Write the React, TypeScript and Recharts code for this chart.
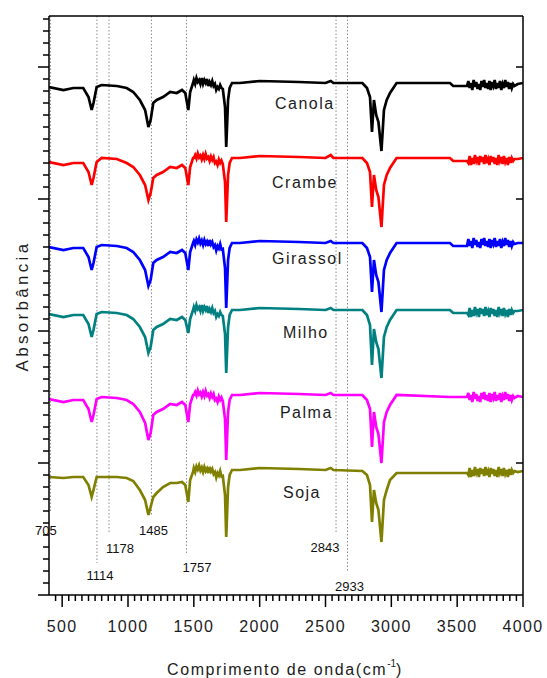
import React from 'react';
import { LineChart, Line, XAxis, YAxis, ReferenceLine, ReferenceDot } from 'recharts';

// Wavenumber grid (cm-1) at which the spectra were read
const WAVENUMBERS = [
  // 400 - 1494
  400, 510, 585, 660, 700, 724, 738, 762, 800, 915,
  990, 1040, 1090, 1130, 1155, 1172, 1192, 1218, 1266, 1320,
  1370, 1410, 1435, 1458, 1472, 1494,
  // 1500 - 1720 (noisy)
  1500, 1510, 1520, 1530, 1540, 1550, 1560, 1570, 1580, 1590,
  1600, 1610, 1620, 1630, 1640, 1650, 1660, 1670, 1680, 1690,
  1700, 1710, 1720,
  // 1737 - 3575
  1737, 1746, 1760, 1772, 1790, 1850, 2000, 2300, 2500, 2540,
  2560, 2780, 2815, 2838, 2853, 2868, 2885, 2902, 2925, 2944,
  2965, 2990, 3040, 3445, 3470, 3575,
  // 3585 - 3935 (noisy)
  3585, 3595, 3605, 3615, 3625, 3635, 3645, 3655, 3665, 3675,
  3685, 3695, 3705, 3715, 3725, 3735, 3745, 3755, 3765, 3775,
  3785, 3795, 3805, 3815, 3825, 3835, 3845, 3855, 3865, 3875,
  3885, 3895, 3905, 3915, 3925, 3935,
  3960, 4000,
];

// Absorbance (vertically offset, a.u.)
const CANOLA = [
  .508, .505, .507, .507, .498, .485, .492, .508, .510, .509,
  .507, .503, .495, .485, .468, .475, .492, .495, .498, .503,
  .502, .505, .502, .485, .503, .512,
  .515, .511, .517, .513, .515, .511, .517, .511, .515, .512,
  .516, .509, .513, .510, .514, .509, .511, .505, .508, .506,
  .510, .507, .506,
  .488, .448, .495, .507, .512, .512, .514, .513, .512, .514,
  .512, .512, .507, .498, .463, .495, .480, .473, .444, .485,
  .495, .502, .512, .512, .509, .509,
  .514, .507, .512, .505, .515, .508, .513, .506, .511, .505,
  .514, .508, .515, .507, .512, .506, .514, .505, .513, .509,
  .515, .506, .512, .507, .514, .505, .511, .507, .515, .508,
  .513, .506, .512, .507, .511, .509,
  .511, .512,
];
const CRAMBE = [
  .433, .430, .432, .432, .423, .410, .417, .433, .437, .436,
  .432, .428, .420, .410, .395, .402, .417, .420, .423, .428,
  .427, .430, .427, .410, .428, .437,
  .437, .440, .4365, .4415, .4375, .4395, .4355, .440, .436, .441,
  .4365, .438, .434, .4385, .435, .438, .432, .4335, .430, .4355,
  .432, .4345, .431,
  .413, .373, .420, .432, .437, .437, .439, .438, .437, .440,
  .437, .437, .432, .423, .388, .420, .405, .398, .368, .410,
  .420, .427, .437, .437, .434, .434,
  .432, .439, .430, .437, .431, .440, .434, .438, .430, .439,
  .433, .438, .431, .440, .432, .436, .430, .439, .433, .438,
  .431, .437, .430, .440, .434, .438, .431, .439, .433, .437,
  .430, .438, .432, .437, .434, .436,
  .436, .437,
];
const GIRASSOL = [
  .348, .345, .347, .347, .338, .325, .332, .348, .350, .349,
  .347, .343, .335, .325, .309, .315, .332, .335, .338, .343,
  .342, .345, .342, .325, .343, .352,
  .354, .350, .3555, .3525, .3565, .3515, .3545, .350, .355, .351,
  .3535, .349, .355, .3505, .353, .348, .350, .3445, .349, .3465,
  .351, .3455, .346,
  .327, .287, .335, .347, .352, .352, .354, .353, .352, .354,
  .352, .352, .347, .338, .303, .335, .320, .313, .283, .325,
  .335, .342, .352, .352, .349, .349,
  .356, .349, .354, .347, .357, .350, .355, .348, .353, .347,
  .356, .350, .357, .349, .354, .348, .356, .347, .355, .351,
  .357, .348, .354, .349, .356, .347, .353, .349, .357, .350,
  .355, .348, .354, .349, .353, .351,
  .352, .352,
];
const MILHO = [
  .281, .278, .280, .280, .271, .258, .265, .281, .283, .282,
  .280, .276, .268, .258, .242, .248, .265, .268, .271, .276,
  .275, .278, .275, .262, .276, .285,
  .288, .284, .290, .286, .288, .284, .290, .284, .288, .285,
  .289, .282, .286, .283, .287, .282, .284, .278, .281, .279,
  .283, .280, .279,
  .261, .222, .268, .280, .285, .285, .287, .286, .285, .287,
  .285, .285, .280, .270, .230, .266, .253, .246, .217, .258,
  .268, .275, .285, .285, .282, .282,
  .280, .287, .278, .285, .279, .288, .282, .286, .278, .287,
  .281, .286, .279, .288, .280, .284, .278, .287, .281, .286,
  .279, .285, .278, .288, .282, .286, .279, .287, .281, .285,
  .278, .286, .280, .285, .282, .284,
  .284, .285,
];
const PALMA = [
  .196, .193, .195, .195, .186, .173, .180, .196, .198, .197,
  .195, .191, .183, .172, .155, .162, .180, .183, .186, .191,
  .190, .193, .190, .173, .191, .200,
  .200, .203, .1995, .2045, .2005, .2025, .1985, .203, .199, .204,
  .1995, .201, .197, .2015, .198, .201, .195, .1965, .193, .1985,
  .195, .1975, .194,
  .176, .135, .183, .195, .200, .200, .202, .201, .200, .202,
  .200, .200, .195, .186, .148, .183, .168, .161, .132, .173,
  .183, .190, .200, .198, .198, .198,
  .202, .195, .200, .193, .203, .196, .201, .194, .199, .193,
  .202, .196, .203, .195, .200, .194, .202, .193, .201, .197,
  .203, .194, .200, .195, .202, .193, .199, .195, .203, .196,
  .201, .194, .200, .195, .199, .197,
  .199, .198,
];
const SOJA = [
  .118, .117, .118, .118, .110, .098, .105, .118, .118, .118,
  .117, .114, .105, .095, .080, .088, .098, .102, .108, .112,
  .112, .113, .110, .093, .115, .123,
  .127, .123, .1285, .1255, .1295, .1245, .1275, .123, .128, .124,
  .1265, .122, .128, .1235, .126, .121, .123, .1175, .122, .1195,
  .124, .1185, .119,
  .100, .058, .108, .120, .125, .125, .127, .126, .125, .127,
  .125, .124, .120, .110, .073, .105, .092, .085, .053, .095,
  .105, .115, .122, .122, .122, .122,
  .120, .127, .118, .125, .119, .128, .122, .126, .118, .127,
  .121, .126, .119, .128, .120, .124, .118, .127, .121, .126,
  .119, .125, .118, .128, .122, .126, .119, .127, .121, .125,
  .118, .126, .120, .125, .122, .124,
  .123, .124,
];

const SERIES_NAMES = ['Canola', 'Crambe', 'Girassol', 'Milho', 'Palma', 'Soja'];
const SERIES_VALUES = [CANOLA, CRAMBE, GIRASSOL, MILHO, PALMA, SOJA];
const SERIES_COLORS = ['#000000', '#FF0000', '#0000FF', '#008080', '#FF00FF', '#808000'];
// label anchor positions (wavenumber, absorbance)
const SERIES_LABEL_X = [2116, 2094, 2094, 2177, 2154, 2177];
const SERIES_LABEL_Y = [0.492, 0.413, 0.337, 0.263, 0.183, 0.103];

// Marked bands (dotted guide lines)
const MARK_LABELS = ['705', '1114', '1178', '1485', '1757', '2843', '2933'];
const MARK_LINE_X = [412, 764, 856, 1178, 1444, 2580, 2667];
const MARK_LINE_END = [0.082, 0.032, 0.062, 0.080, 0.040, 0.062, 0.023];
const MARK_TEXT_X = [377, 787, 939, 1194, 1524, 2496, 2682];
const MARK_TEXT_Y = [0.065, 0.020, 0.047, 0.065, 0.028, 0.048, 0.009];

const X_DOMAIN = [400, 4000];
const Y_DOMAIN = [0, 0.579];
const X_MAJOR = [500, 1000, 1500, 2000, 2500, 3000, 3500, 4000];
const X_MINOR_STEP = 50;
const X_TOP_TICKS = [916, 1432, 1948, 2464, 2980, 3496];
const Y_LEFT_STEP = 0.012;
const Y_LEFT_COUNT = 48;
const Y_RIGHT_TICKS = [0.132, 0.264, 0.396, 0.528];

const xBottomTicks: number[] = [];
for (let v = 450; v <= 4000; v += X_MINOR_STEP) xBottomTicks.push(v);
const yLeftTicks: number[] = [];
for (let k = 0; k <= Y_LEFT_COUNT; k++) yLeftTicks.push(+(k * Y_LEFT_STEP).toFixed(4));

const FONT = "'Liberation Sans', Arial, sans-serif";
const TEXT_COLOR = '#1c1c1c';

const seriesData = SERIES_VALUES.map((vals) =>
  WAVENUMBERS.map((wn, i) => ({ wn, a: vals[i] }))
);

const BottomTick = (props: any) => {
  const { x, y, payload } = props;
  const v = payload.value;
  const major = X_MAJOR.includes(v);
  return (
    <g>
      <line x1={x} y1={y} x2={x} y2={y + (major ? 12 : 6)} stroke="#000" strokeWidth={1.5} />
      {major && (
        <text x={x} y={y + 37} textAnchor="middle" fontSize={16} letterSpacing={1.3}
          fontFamily={FONT} fill={TEXT_COLOR}>{v}</text>
      )}
    </g>
  );
};

const TopTick = (props: any) => {
  const { x, y } = props;
  return <line x1={x} y1={y} x2={x} y2={y + 10} stroke="#000" strokeWidth={1.5} />;
};

const LeftTick = (props: any) => {
  const { x, y, payload } = props;
  const k = Math.round(payload.value / Y_LEFT_STEP);
  const major = k % 11 === 0;
  return <line x1={x} y1={y} x2={x - (major ? 11 : 6)} y2={y} stroke="#000" strokeWidth={1.5} />;
};

const RightTick = (props: any) => {
  const { x, y } = props;
  return <line x1={x} y1={y} x2={x - 7} y2={y} stroke="#000" strokeWidth={1.5} />;
};

export default function App() {
  return (
    <div style={{ position: 'relative', width: 547, height: 678, background: '#fff' }}>
      <style>{'body{margin:0;background:#fff}'}</style>
      <LineChart width={547} height={678} margin={{ top: 15, right: 23, bottom: 82, left: 48 }}>
        <XAxis xAxisId="x" dataKey="wn" type="number" domain={X_DOMAIN} ticks={xBottomTicks}
          interval={0} height={1} tickSize={0} tickMargin={0} tickLine={false}
          tick={<BottomTick />} axisLine={{ stroke: '#000', strokeWidth: 1.5 }} allowDataOverflow />
        <XAxis xAxisId="top" orientation="top" type="number" domain={X_DOMAIN} ticks={X_TOP_TICKS}
          interval={0} height={1} tickSize={0} tickMargin={0} tickLine={false}
          tick={<TopTick />} axisLine={{ stroke: '#000', strokeWidth: 1.5 }} allowDataOverflow />
        <YAxis yAxisId="y" type="number" domain={Y_DOMAIN} ticks={yLeftTicks} interval={0}
          width={1} tickSize={0} tickMargin={0} tickLine={false} tick={<LeftTick />}
          axisLine={{ stroke: '#000', strokeWidth: 1.5 }} allowDataOverflow />
        <YAxis yAxisId="r" orientation="right" type="number" domain={Y_DOMAIN} ticks={Y_RIGHT_TICKS}
          interval={0} width={1} tickSize={0} tickMargin={0} tickLine={false} tick={<RightTick />}
          axisLine={{ stroke: '#000', strokeWidth: 1.5 }} allowDataOverflow />

        {MARK_LINE_X.map((mx, i) => (
          <ReferenceLine key={'ml' + i} xAxisId="x" yAxisId="y" ifOverflow="visible"
            segment={[{ x: mx, y: Y_DOMAIN[1] }, { x: mx, y: MARK_LINE_END[i] }]}
            stroke="#8a8a8a" strokeWidth={1} strokeDasharray="1.5 2" />
        ))}

        {SERIES_NAMES.map((name, i) => (
          <Line key={name} xAxisId="x" yAxisId="y" data={seriesData[i]} dataKey="a" name={name}
            type="linear" stroke={SERIES_COLORS[i]} strokeWidth={2.7} dot={false} activeDot={false}
            isAnimationActive={false} strokeLinejoin="miter" />
        ))}

        {MARK_LABELS.map((lab, i) => (
          <ReferenceDot key={'mt' + i} xAxisId="x" yAxisId="y" x={MARK_TEXT_X[i]} y={MARK_TEXT_Y[i]}
            ifOverflow="visible" r={0}
            shape={(p: any) => (
              <text x={p.cx} y={p.cy} dy="0.35em" textAnchor="middle" fontSize={13}
                fontFamily={FONT} fill="#111">{lab}</text>
            )} />
        ))}

        {SERIES_NAMES.map((name, i) => (
          <ReferenceDot key={'sl' + i} xAxisId="x" yAxisId="y" x={SERIES_LABEL_X[i]} y={SERIES_LABEL_Y[i]}
            ifOverflow="visible" r={0}
            shape={(p: any) => (
              <text x={p.cx} y={p.cy} dy="0.35em" textAnchor="start" fontSize={16} letterSpacing={1.5}
                fontFamily={FONT} fill={TEXT_COLOR}>{name}</text>
            )} />
        ))}
      </LineChart>

      <div style={{ position: 'absolute', left: 23, top: 306, transform: 'translate(-50%, -50%) rotate(-90deg)',
        whiteSpace: 'nowrap', fontFamily: FONT, fontSize: 17, letterSpacing: 3.3, color: TEXT_COLOR, lineHeight: '20px' }}>
        Absorbância
      </div>
      <div style={{ position: 'absolute', left: 167, top: 660, whiteSpace: 'nowrap', fontFamily: FONT,
        fontSize: 16, letterSpacing: 1.6, color: TEXT_COLOR, lineHeight: '20px' }}>
        Comprimento de onda(cm<span style={{ fontSize: 10, position: 'relative', top: -8, letterSpacing: 0 }}>-1</span>)
      </div>
    </div>
  );
}
